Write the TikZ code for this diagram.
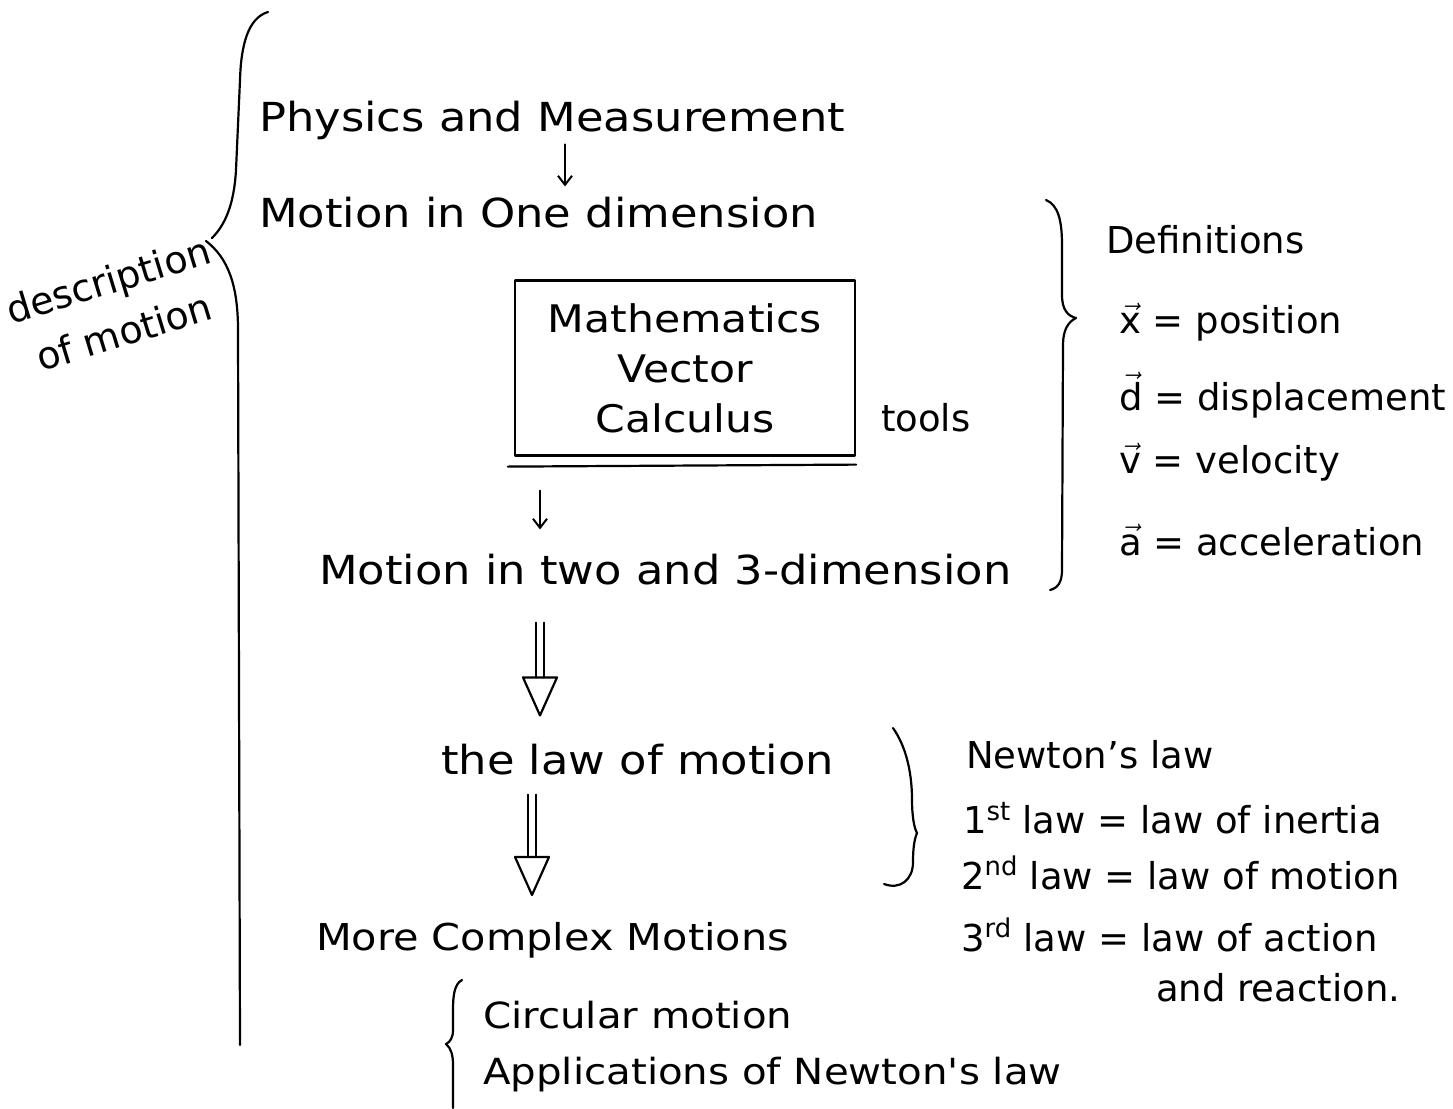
\documentclass[tikz,border=0pt]{standalone}
\usepackage{fix-cm}
\usepackage{fontspec}
\setmainfont{DejaVu Sans}
\newfontfamily\handfont[FakeStretch=1.12]{DejaVu Sans}
\usetikzlibrary{calc,arrows.meta}
\begin{document}
\begin{tikzpicture}[x=1pt,y=-1pt,line width=2.2pt,line cap=round,line join=round,
  txt/.style={anchor=west,inner sep=0pt,font=\handfont\fontsize{40}{50}\selectfont},
  rtxt/.style={anchor=west,inner sep=0pt,font=\fontsize{37}{48}\selectfont},
  stxt/.style={anchor=west,inner sep=0pt,font=\handfont\fontsize{36}{46}\selectfont},
  mathbox/.style={draw,inner sep=0pt,minimum width=340pt,minimum height=175pt,align=center,font=\handfont\fontsize{38}{50}\selectfont},
  smallarrow/.style={-{Straight Barb[length=9pt,width=14pt]},line width=2pt},
  brace/.style={line width=2.2pt}]
\useasboundingbox (0,0) rectangle (1453,1108);
\fill[white] (0,0) rectangle (1453,1108);

% main column
\node[txt] (pm) at (258,120) {Physics and Measurement};
\node[txt] (mo1) at (258,213) {Motion in One dimension};
\node[mathbox] (mbox) at (685,368) {Mathematics\\Vector\\Calculus};
\node[rtxt] (tools) at (880,418) {tools};
\node[txt] (m23) at (318,570) {Motion in two and 3-dimension};
\node[txt] (law) at (440,760) {the law of motion};
\node[txt,font=\handfont\fontsize{37}{46}\selectfont] (more) at (315,940) {More Complex Motions};
\node[stxt] (circ) at (482,1015) {Circular motion};
\node[stxt] (appl) at (482,1075) {Applications of Newton's law};

% left label
\node[anchor=center,align=center,inner sep=0pt,rotate=17,font=\fontsize{38}{54}\selectfont] (desc) at (116,306) {description\\of motion};

% definitions
\node[rtxt] (defs) at (1105,240) {Definitions};
\node[rtxt] (xd) at (1118,322) {$\vec{\mbox{x}}$ = position};
\node[rtxt] (dd) at (1118,395) {$\vec{\mbox{d}}$ = displacement};
\node[rtxt] (vd) at (1118,462) {$\vec{\mbox{v}}$ = velocity};
\node[rtxt] (ad) at (1118,540) {$\vec{\mbox{a}}$ = acceleration};

% Newton
\node[rtxt] (newt) at (965,755) {Newton's law};
\node[rtxt] (l1) at (962,818) {1\textsuperscript{st} law = law of inertia};
\node[rtxt] (l2) at (960,873) {2\textsuperscript{nd} law = law of motion};
\node[rtxt] (l3) at (960,935) {3\textsuperscript{rd} law = law of action};
\node[rtxt] (l3b) at (1155,988) {and reaction.};

% extra underline of box
\draw ([yshift=-10pt,xshift=-6pt]mbox.south west) -- ([yshift=-8pt]mbox.south east);

% small arrows
\coordinate (c565) at (565,0);
\coordinate (c540) at (540,0);
\coordinate (c532) at (532,0);
\draw[smallarrow,shorten <=4pt,shorten >=10pt] (pm.south -| c565) -- (mo1.north -| c565);
\draw[smallarrow,shorten <=34pt,shorten >=24pt] (mbox.south -| c540) -- (m23.north -| c540);

% hollow arrows
\coordinate (h1a) at ($(m23.south -| c540)+(0,36)$);
\coordinate (h1b) at ($(law.north -| c540)+(0,-28)$);
\draw ($(h1a)+(-4,0)$) -- ($(h1b)+(-4,-38)$);
\draw ($(h1a)+(4,0)$) -- ($(h1b)+(4,-38)$);
\draw ($(h1b)+(-17,-38)$) -- ($(h1b)+(17,-38)$) -- (h1b) -- cycle;

\coordinate (h2a) at ($(law.south -| c532)+(0,18)$);
\coordinate (h2b) at ($(more.north -| c532)+(0,-26)$);
\draw ($(h2a)+(-4,0)$) -- ($(h2b)+(-4,-38)$);
\draw ($(h2a)+(4,0)$) -- ($(h2b)+(4,-38)$);
\draw ($(h2b)+(-17,-38)$) -- ($(h2b)+(17,-38)$) -- (h2b) -- cycle;

% big left brace
\draw[brace] (268,12) .. controls (248,18) and (241,45) .. (240,80) -- (236,170) .. controls (234,205) and (225,225) .. (212,238);
\draw[brace] (206,241) .. controls (228,258) and (238,285) .. (238,330) -- (240,1045);

% definitions brace
\draw[brace] (1046,200) .. controls (1058,205) and (1062,220) .. (1062,245) -- (1062,295) .. controls (1062,310) and (1068,316) .. (1076,318)
  .. controls (1068,322) and (1063,330) .. (1063,345) -- (1062,570) .. controls (1062,582) and (1058,588) .. (1050,590);

% Newton brace
\draw[brace] (893,728) .. controls (905,745) and (912,770) .. (912,800) .. controls (912,815) and (914,828) .. (917,833)
  .. controls (914,840) and (913,850) .. (913,862) .. controls (913,880) and (900,890) .. (884,884);

% bottom brace
\draw[brace] (462,980) .. controls (454,984) and (453,997) .. (453,1010) -- (453,1030) .. controls (453,1038) and (450,1042) .. (446,1044)
  .. controls (451,1048) and (453,1055) .. (453,1065) -- (453,1108);
\end{tikzpicture}
\end{document}
